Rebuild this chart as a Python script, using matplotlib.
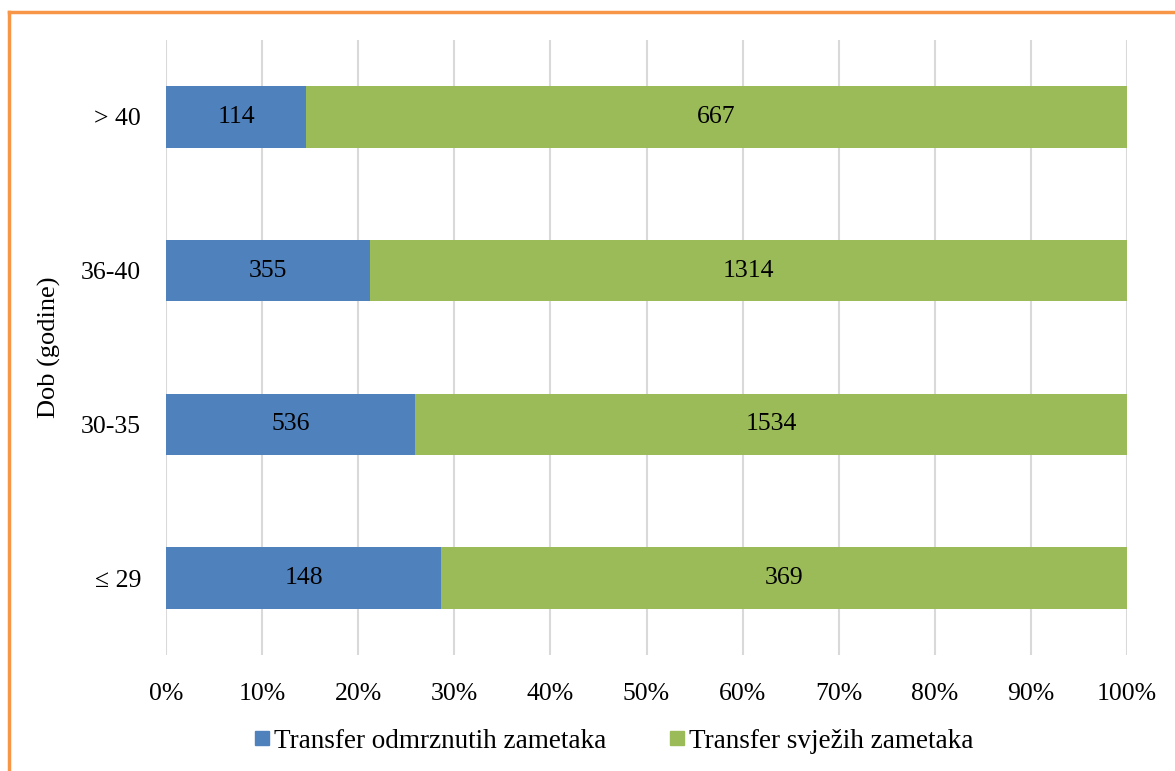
import matplotlib.pyplot as plt
from matplotlib.lines import Line2D
import numpy as np

# age groups, bottom to top
age_groups = ["\u2264 29", "30-35", "36-40", "> 40"]
frozen = [148, 536, 355, 114]      # Transfer odmrznutih zametaka
fresh = [369, 1534, 1314, 667]     # Transfer svježih zametaka

BLUE, GREEN, ORANGE = "#4F81BD", "#9BBB59", "#F79646"
plt.rcParams["font.family"] = ["Liberation Serif", "DejaVu Serif"]

frozen_a = np.array(frozen, dtype=float)
fresh_a = np.array(fresh, dtype=float)
total = frozen_a + fresh_a
pf = frozen_a / total * 100
ps = fresh_a / total * 100

fig = plt.figure(figsize=(11.75, 7.71), dpi=100)
ax = fig.add_axes([166 / 1175, 1 - 655 / 771, (1127 - 166) / 1175, (655 - 40) / 771])

y = np.arange(len(age_groups))
ax.barh(y, pf, height=0.4, color=BLUE, zorder=3)
ax.barh(y, ps, left=pf, height=0.4, color=GREEN, zorder=3)
for i in range(len(y)):
    ax.text(pf[i] / 2, y[i], str(frozen[i]), ha="center", va="center", fontsize=18.5, zorder=4)
    ax.text(pf[i] + ps[i] / 2, y[i], str(fresh[i]), ha="center", va="center", fontsize=18.5, zorder=4)

ax.set_xlim(0, 100)
ax.set_ylim(-0.5, len(age_groups) - 0.5)
ax.set_xticks(np.arange(0, 101, 10))
ax.set_xticklabels([f"{v}%" for v in range(0, 101, 10)])
ax.set_yticks(y)
ax.set_yticklabels(age_groups)
ax.tick_params(axis="both", length=0, labelsize=18.5)
ax.tick_params(axis="x", pad=20)
ax.tick_params(axis="y", pad=18)
ax.grid(axis="x", color="#D9D9D9", lw=1.5, zorder=0)
for s in ax.spines.values():
    s.set_visible(False)
ax.set_ylabel("Dob (godine)", fontsize=19, labelpad=14)

handles = [Line2D([], [], marker="s", ls="", color=BLUE, markersize=10.5),
           Line2D([], [], marker="s", ls="", color=GREEN, markersize=10.5)]
fig.legend(handles, ["Transfer odmrznutih zametaka", "Transfer svježih zametaka"],
           loc="center", bbox_to_anchor=(612 / 1175, 1 - 741 / 771), ncol=2,
           frameon=False, fontsize=19.5, handletextpad=0.05, columnspacing=2.2,
           handlelength=0.8)

# orange chart border (top and left visible)
fig.add_artist(Line2D([9 / 1175, 9 / 1175], [0, 1 - 12 / 771], color=ORANGE, lw=2.5,
                      transform=fig.transFigure))
fig.add_artist(Line2D([9 / 1175, 1], [1 - 12 / 771, 1 - 12 / 771], color=ORANGE, lw=2.5,
                      transform=fig.transFigure))

fig.savefig("out.png", dpi=100)
